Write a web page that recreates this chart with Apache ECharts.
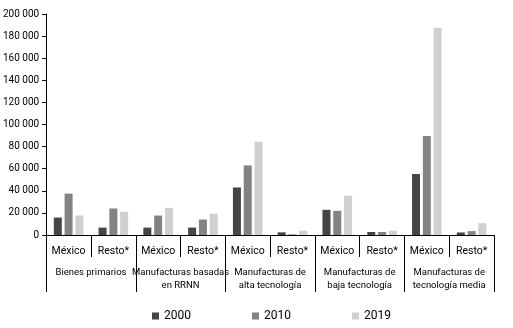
<!DOCTYPE html>
<html>
<head>
<meta charset="utf-8">
<script src="https://cdn.jsdelivr.net/npm/echarts@6/dist/echarts.min.js"></script>
<style>
  html, body { margin: 0; padding: 0; background: #fff; }
  #chart { width: 513px; height: 328px; }
</style>
</head>
<body>
<div id="chart"></div>
<script>
// sub categories (first row) and groups (second row)
var subCats = ['México', 'Resto*', 'México', 'Resto*', 'México', 'Resto*', 'México', 'Resto*', 'México', 'Resto*'];
var groups = ['Bienes primarios', 'Manufacturas basadas\nen RRNN', 'Manufacturas de\nalta tecnología', 'Manufacturas de\nbaja tecnología', 'Manufacturas de\ntecnología media'];
var yTicks = [0, 20000, 40000, 60000, 80000, 100000, 120000, 140000, 160000, 180000, 200000];

var years = ['2000', '2010', '2019'];
var v2000 = [15800, 6700, 6700, 6700, 43000, 2400, 22800, 2700, 55200, 2300];
var v2010 = [37400, 24000, 17600, 14000, 63000, 600, 21900, 2700, 89600, 3500];
var v2019 = [17600, 21000, 24600, 19200, 84300, 3900, 35600, 3900, 187500, 10700];
var colors = ['#454545', '#818385', '#d0d0d0'];

var font = 'Roboto, sans-serif';

var chart = echarts.init(document.getElementById('chart'));

function fmt(v) {
  return String(v).replace(/\B(?=(\d{3})+(?!\d))/g, ' ');
}

var seriesData = [v2000, v2010, v2019];
var series = [];
for (var i = 0; i < years.length; i++) {
  series.push({
    name: years[i],
    type: 'bar',
    xAxisIndex: 0,
    barWidth: 8,
    barGap: '35%',
    itemStyle: { color: colors[i] },
    data: seriesData[i]
  });
}

chart.setOption({
  animation: false,
  textStyle: { fontFamily: font },
  grid: { left: 44, right: 19, top: 14, bottom: 93 },
  legend: {
    bottom: 1,
    left: 147,
    itemWidth: 7,
    itemHeight: 7,
    itemGap: 61,
    icon: 'rect',
    textStyle: { fontFamily: font, fontSize: 12, color: '#000' },
    data: years
  },
  xAxis: [{
    type: 'category',
    data: subCats,
    axisLine: { lineStyle: { color: '#000', width: 1 } },
    axisTick: { show: true, interval: 0, length: 22, lineStyle: { color: '#000' } },
    axisLabel: { interval: 0, margin: 11, fontSize: 10.5, color: '#000', fontFamily: font }
  }, {
    type: 'category',
    position: 'bottom',
    data: groups,
    axisLine: { show: false },
    axisTick: { show: true, interval: 0, length: 57, lineStyle: { color: '#000' } },
    axisLabel: { interval: 0, margin: 31, fontSize: 9.5, lineHeight: 13, color: '#000', fontFamily: font }
  }],
  yAxis: {
    type: 'value',
    min: 0,
    max: 200000,
    interval: 20000,
    splitLine: { show: false },
    axisLine: { show: true, lineStyle: { color: '#000' } },
    axisTick: { show: true, length: 4, lineStyle: { color: '#000' } },
    axisLabel: { margin: 7, fontSize: 10, color: '#000', fontFamily: font, formatter: fmt }
  },
  series: series
});
</script>
</body>
</html>
